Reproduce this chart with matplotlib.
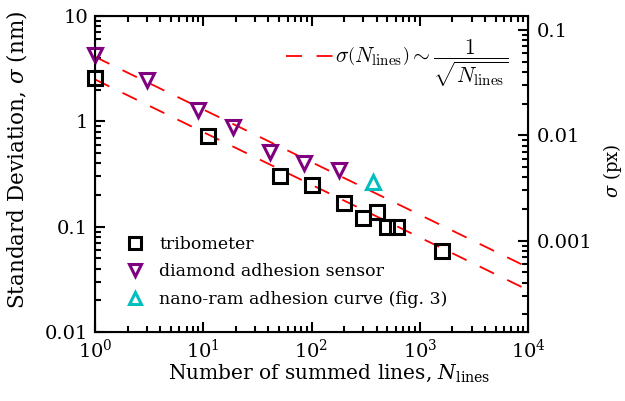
import matplotlib.pyplot as plt
import numpy as np
from matplotlib.ticker import FuncFormatter, LogLocator, NullFormatter

plt.rcParams['font.family'] = ['DejaVu Serif']
plt.rcParams['mathtext.fontset'] = 'custom'
plt.rcParams['mathtext.rm'] = 'DejaVu Serif'
plt.rcParams['mathtext.it'] = 'DejaVu Serif:italic'
plt.rcParams['mathtext.bf'] = 'DejaVu Serif:bold'
plt.rcParams['font.size'] = 14
plt.rcParams['lines.scale_dashes'] = False

# data
tribo_n = [1, 11, 51, 100, 201, 301, 400, 495, 621, 1596]
tribo_sigma = [2.56, 0.72, 0.30, 0.25, 0.169, 0.12, 0.139, 0.10, 0.10, 0.059]

diamond_n = [1, 3, 9, 19, 41, 86, 181]
diamond_sigma = [4.26, 2.47, 1.28, 0.89, 0.51, 0.40, 0.345]

nanoram_n = [367]
nanoram_sigma = [0.267]

# 1/sqrt(N) guide lines
guide_n = np.logspace(0, 4, 200)
guide_upper = 4.1
guide_lower = 2.5

nm_per_px = 73.6

fig = plt.figure(figsize=(6.25, 4.01), dpi=100)
ax = fig.add_axes([0.152, 0.172, 0.693, 0.788])

line_up, = ax.plot(guide_n, guide_upper / np.sqrt(guide_n), color='red', lw=1.3,
                   dashes=(11.5, 10.5))
ax.plot(guide_n, guide_lower / np.sqrt(guide_n), color='red', lw=1.3,
        dashes=(11.5, 10.5))

h1, = ax.plot(tribo_n, tribo_sigma, 's', ms=10.5, mfc='none', mec='black', mew=2.2,
              clip_on=False, zorder=5)
h2, = ax.plot(diamond_n, diamond_sigma, 'v', ms=10.5, mfc='none', mec='#800080', mew=2.2,
              clip_on=False, zorder=5)
h3, = ax.plot(nanoram_n, nanoram_sigma, '^', ms=10.5, mfc='none', mec='#00bfbf', mew=2.2,
              clip_on=False, zorder=5)

ax.set_xscale('log')
ax.set_yscale('log')
ax.set_xlim(1, 1e4)
ax.set_ylim(0.01, 10)

ax.yaxis.set_major_formatter(FuncFormatter(lambda v, p: '%g' % v))
ax.xaxis.set_major_locator(LogLocator(base=10, numticks=10))
ax.xaxis.set_minor_locator(LogLocator(base=10, subs=np.arange(2, 10), numticks=20))
ax.yaxis.set_minor_locator(LogLocator(base=10, subs=np.arange(2, 10), numticks=20))
ax.xaxis.set_minor_formatter(NullFormatter())
ax.yaxis.set_minor_formatter(NullFormatter())

ax.tick_params(which='both', direction='in', top=True, right=False, width=1.5)
ax.tick_params(which='major', length=7, pad=5)
ax.tick_params(which='minor', length=4)
for s in ax.spines.values():
    s.set_linewidth(1.5)

ax.set_xlabel(r'Number of summed lines, $N_{\rm lines}$', fontsize=14.5, labelpad=0)
ax.xaxis.set_label_coords(0.54, -0.095)
ax.set_ylabel(r'Standard Deviation, $\sigma$ (nm)', fontsize=15.5)
ax.yaxis.set_label_coords(-0.152, 0.544)

ax2 = ax.twinx()
ax2.set_yscale('log')
ax2.set_ylim(0.01 / nm_per_px, 10 / nm_per_px)
ax2.yaxis.set_major_locator(LogLocator(base=10, numticks=10))
ax2.yaxis.set_minor_locator(LogLocator(base=10, subs=np.arange(2, 10), numticks=20))
ax2.yaxis.set_minor_formatter(NullFormatter())
ax2.yaxis.set_major_formatter(FuncFormatter(lambda v, p: '%g' % v))
ax2.tick_params(which='both', direction='in', width=1.5)
ax2.tick_params(which='major', length=7, pad=6)
ax2.tick_params(which='minor', length=4)
ax2.set_ylabel(r'$\sigma$ (px)', fontsize=13)
ax2.yaxis.set_label_coords(1.168, 0.51)

leg1 = ax2.legend([line_up], [r'$\sigma\left(N_{\rm lines}\right) \sim \dfrac{1}{\sqrt{N_{\rm lines}}}$'],
                  loc='upper right', bbox_to_anchor=(0.979, 0.965), frameon=False,
                  fontsize=15.5, handlelength=2.25, handletextpad=0.0, borderaxespad=0.1)
leg1.get_texts()[0].set_math_fontfamily('cm')

leg2 = ax2.legend([h1, h2, h3], ['tribometer', 'diamond adhesion sensor',
                                 'nano-ram adhesion curve (fig. 3)'],
                  loc='lower left', bbox_to_anchor=(0.016, 0.0), frameon=False,
                  fontsize=12.5, handlelength=1, handletextpad=0.9, labelspacing=0.6,
                  borderaxespad=1.0, markerscale=0.8)
ax2.add_artist(leg1)

fig.savefig('out.png', dpi=100)
